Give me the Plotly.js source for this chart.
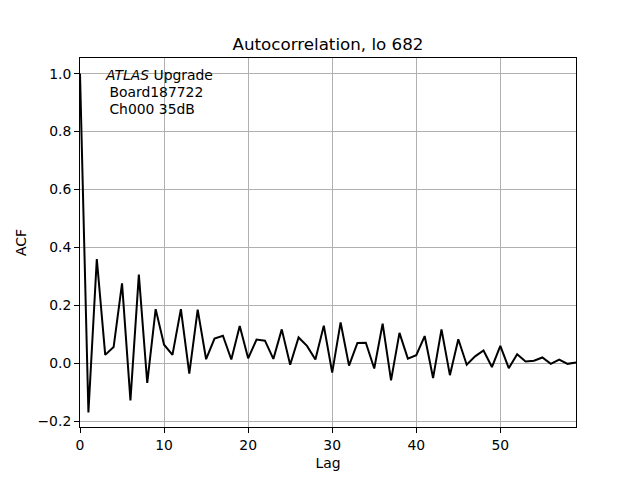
<!DOCTYPE html>
<html>
<head>
<meta charset="utf-8">
<script src="https://cdn.plot.ly/plotly-3.0.1.min.js"></script>
<style>html,body{margin:0;padding:0;background:#fff;}#chart{width:640px;height:480px;}</style>
</head>
<body>
<div id="chart"></div>
<script>
const lags = Array.from({length: 60}, (_, i) => i);
const acf = [
  1.0, -0.170, 0.360, 0.029, 0.056, 0.276, -0.128, 0.306, -0.068, 0.187,
  0.064, 0.029, 0.187, -0.036, 0.185, 0.014, 0.085, 0.095, 0.013, 0.129,
  0.017, 0.082, 0.078, 0.015, 0.117, -0.005, 0.089, 0.060, 0.013, 0.130,
  -0.032, 0.141, -0.008, 0.070, 0.071, -0.018, 0.137, -0.059, 0.105, 0.016,
  0.028, 0.094, -0.051, 0.117, -0.041, 0.083, -0.005, 0.024, 0.044, -0.013,
  0.060, -0.017, 0.031, 0.006, 0.009, 0.020, -0.002, 0.013, -0.002, 0.003
];
const titleText = "Autocorrelation, lo 682";
const annotLines = ["<i>ATLAS</i> Upgrade", "\u00a0Board187722", "\u00a0Ch000 35dB"];
const xTicks = [0, 10, 20, 30, 40, 50];
const yTicks = [-0.2, 0, 0.2, 0.4, 0.6, 0.8, 1.0];

const font = "DejaVu Sans, sans-serif";
const trace = {
  x: lags, y: acf, type: "scatter", mode: "lines",
  line: {color: "black", width: 2}, hoverinfo: "skip"
};
const axisCommon = {
  showline: true, mirror: true, linecolor: "black", linewidth: 1,
  ticks: "outside", ticklen: 5, tickwidth: 1, tickcolor: "black",
  showgrid: true, gridcolor: "#b0b0b0", gridwidth: 1, zeroline: false,
  tickfont: {family: font, size: 13.9, color: "black"}
};
const annotY = [0.954, 0.908, 0.862];
const annotations = annotLines.map((t, i) => ({
  text: t, xref: "paper", yref: "paper", x: 0.046, y: annotY[i],
  xanchor: "left", yanchor: "middle", align: "left", showarrow: false,
  font: {family: font, size: 13.9, color: "black"}
}));
const layout = {
  width: 640, height: 480,
  margin: {l: 80, r: 64, t: 58, b: 53},
  paper_bgcolor: "white", plot_bgcolor: "white",
  showlegend: false,
  title: {text: titleText, font: {family: font, size: 16.7, color: "black"}, xref: "paper", x: 0.5, xanchor: "center", y: 1 - 44/480, yanchor: "middle"},
  xaxis: Object.assign({}, axisCommon, {
    range: [0, 59], tickvals: xTicks,
    title: {text: "Lag", font: {family: font, size: 13.9, color: "black"}, standoff: 6}
  }),
  yaxis: Object.assign({}, axisCommon, {
    range: [-0.22, 1.054], tickvals: yTicks, tickformat: ".1f",
    title: {text: "ACF", font: {family: font, size: 13.9, color: "black"}, standoff: 7}
  }),
  annotations: annotations
};
Plotly.newPlot("chart", [trace], layout, {displayModeBar: false, staticPlot: true});
</script>
</body>
</html>
